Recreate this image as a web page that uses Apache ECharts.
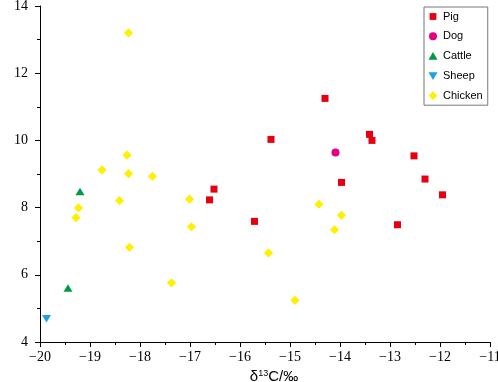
<!DOCTYPE html>
<html>
<head>
<meta charset="utf-8">
<script src="https://cdn.jsdelivr.net/npm/echarts@6/dist/echarts.min.js"></script>
<style>
  html, body { margin: 0; padding: 0; background: #fff; }
  #chart { width: 498px; height: 382px; }
</style>
</head>
<body>
<div id="chart"></div>
<script>
// 数据：δ13C / δ15N
var pigC = [-16.61, -16.52, -14.30, -15.38, -13.41, -13.36, -12.52, -13.97, -12.30, -11.95, -15.71, -12.85];
var pigN = [8.23, 8.55, 11.25, 10.03, 10.18, 10.00, 9.54, 8.75, 8.85, 8.38, 7.59, 7.49];
var dogC = [-14.09];
var dogN = [9.64];
var cattleC = [-19.20, -19.44];
var cattleN = [8.48, 5.61];
var sheepC = [-19.87];
var sheepN = [4.69];
var chickenC = [-18.23, -18.26, -18.76, -18.23, -17.75, -19.23, -19.28, -18.41, -17.01, -16.97, -18.21, -17.37, -14.42, -13.97, -14.11, -15.43, -14.90];
var chickenN = [13.20, 9.56, 9.12, 9.01, 8.93, 7.99, 7.70, 8.21, 8.25, 7.43, 6.82, 5.76, 8.10, 7.77, 7.34, 6.65, 5.24];
var xTicks = [-20, -19, -18, -17, -16, -15, -14, -13, -12, -11];
var yTicks = [4, 6, 8, 10, 12, 14];

function pairs(xs, ys) {
    return xs.map(function (x, i) { return [x, ys[i]]; });
}

var myChart = echarts.init(document.getElementById('chart'));

var tickFont = { fontFamily: 'Liberation Sans Narrow', fontSize: 14, color: '#000' };
var nameRich = {
    a: { fontFamily: 'Liberation Sans', fontSize: 15, color: '#000' },
    s: { fontFamily: 'Liberation Sans', fontSize: 9, color: '#000', verticalAlign: 'top', padding: [0, 0, 6, 0] }
};

// 图例图标（留白让图标比框小一点）
var legendIcons = {
    Pig: 'path://M0,0M10,10M1.6,1.6L8.4,1.6L8.4,8.4L1.6,8.4Z',
    Dog: 'path://M0,0M10,10M1,5A4,4,0,1,1,9,5A4,4,0,1,1,1,5Z',
    Cattle: 'path://M0,0M10,10M5,1L9.5,8.6L0.5,8.6Z',
    Sheep: 'path://M0,0M10,10M0.5,1.4L9.5,1.4L5,9Z',
    Chicken: 'path://M0,0M10,10M5,0.6L9.4,5L5,9.4L0.6,5Z'
};

var option = {
    animation: false,
    grid: { left: 40, right: 8, top: 6, bottom: 40, outerBoundsMode: 'none' },
    legend: {
        orient: 'vertical',
        left: 424,
        top: 7,
        padding: [4, 5, 4, 4],
        itemWidth: 10,
        itemHeight: 10,
        itemGap: 8.8,
        borderColor: '#777',
        borderWidth: 1,
        textStyle: { fontFamily: 'Liberation Sans', fontSize: 11, color: '#000' },
        data: ['Pig', 'Dog', 'Cattle', 'Sheep', 'Chicken'].map(function (n) {
            return { name: n, icon: legendIcons[n] };
        })
    },
    xAxis: {
        type: 'value',
        min: xTicks[0],
        max: xTicks[xTicks.length - 1],
        interval: 1,
        name: '{a|δ}{s|13}{a|C/‰}',
        nameLocation: 'middle',
        nameGap: 27,
        nameTextStyle: { padding: [0, 0, 0, 18], rich: nameRich },
        axisLine: { onZero: false, lineStyle: { color: '#000', width: 1 } },
        axisTick: { inside: false, length: 5, lineStyle: { color: '#000' } },
        minorTick: { show: true, splitNumber: 2, length: 3, lineStyle: { color: '#000' } },
        splitLine: { show: false },
        axisLabel: Object.assign({ margin: 8, formatter: function (v) { return String(v).replace('-', '\u2212'); } }, tickFont)
    },
    yAxis: {
        type: 'value',
        min: yTicks[0],
        max: yTicks[yTicks.length - 1],
        interval: 2,
        name: '{a|δ}{s|15}{a|N/‰}',
        nameLocation: 'middle',
        nameGap: 24,
        nameRotate: 90,
        nameTextStyle: { rich: nameRich },
        axisLine: { show: true, onZero: false, lineStyle: { color: '#000', width: 1 } },
        axisTick: { show: true, inside: false, length: 5, lineStyle: { color: '#000' } },
        minorTick: { show: true, splitNumber: 2, length: 3, lineStyle: { color: '#000' } },
        splitLine: { show: false },
        axisLabel: Object.assign({ margin: 12 }, tickFont)
    },
    series: [
        {
            name: 'Pig', type: 'scatter', symbol: 'rect', symbolSize: 7,
            itemStyle: { color: '#e60012', opacity: 1 },
            data: pairs(pigC, pigN)
        },
        {
            name: 'Dog', type: 'scatter', symbol: 'circle', symbolSize: 8,
            itemStyle: { color: '#e4007f', opacity: 1 },
            data: pairs(dogC, dogN)
        },
        {
            name: 'Cattle', type: 'scatter', symbol: 'triangle', symbolSize: [9, 7.5],
            itemStyle: { color: '#009944', opacity: 1 },
            data: pairs(cattleC, cattleN)
        },
        {
            name: 'Sheep', type: 'scatter', symbol: 'triangle', symbolRotate: 180, symbolSize: [9, 7.5],
            itemStyle: { color: '#1ea1e0', opacity: 1 },
            data: pairs(sheepC, sheepN)
        },
        {
            name: 'Chicken', type: 'scatter', symbol: 'rect', symbolRotate: 45, symbolSize: 6.5,
            itemStyle: { color: '#fff000', opacity: 1 },
            data: pairs(chickenC, chickenN)
        }
    ]
};

myChart.setOption(option);
</script>
</body>
</html>
